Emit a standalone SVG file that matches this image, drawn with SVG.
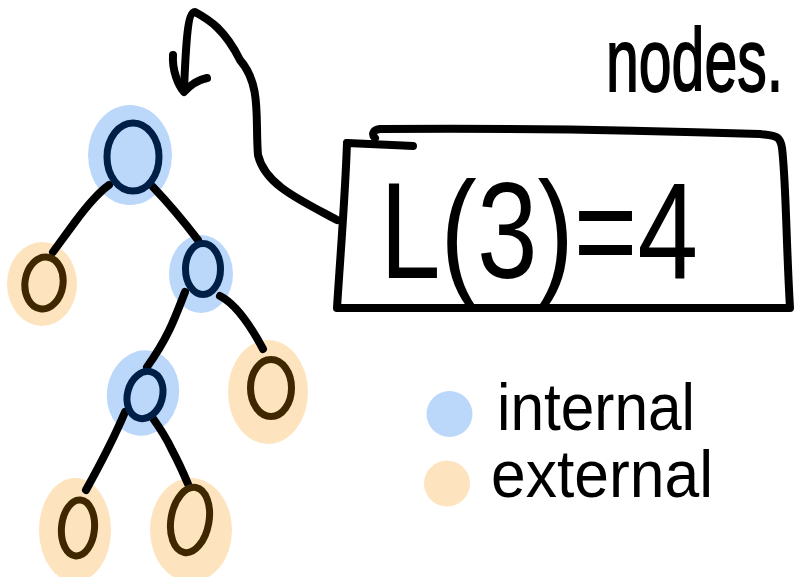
<svg xmlns="http://www.w3.org/2000/svg" width="795" height="577" viewBox="0 0 795 577">
<style>
.ink{fill:none;stroke:#000;stroke-width:8;stroke-linecap:round;stroke-linejoin:round}
.bin{fill:#bbd8fb;mix-blend-mode:multiply}
.bex{fill:#fde4be;mix-blend-mode:multiply}
.nin{fill:none;stroke:#001f47;stroke-width:7;stroke-linecap:round}
.nex{fill:none;stroke:#3f2800;stroke-width:7;stroke-linecap:round}
.t{font-family:"Liberation Sans",Arial,sans-serif;fill:#000}
</style>
<rect width="795" height="577" fill="#fff"/>
<g id="connectors">
<path class="ink" d="M109,185 Q95,195 75,222 L53,252"/>
<path class="ink" d="M153,187 Q175,210 198,240"/>
<path class="ink" d="M185,292 C175,318 168,338 147,367"/>
<path class="ink" d="M220,296 Q240,306 263,349"/>
<path class="ink" d="M125,412 Q112,443 86,490"/>
<path class="ink" d="M152,417 Q165,435 172,450 Q180,465 188,484"/>
<path class="ink" d="M337,220 C300,200 265,185 258,155 C255,120 262,85 240,60 C225,30 210,20 195,12 C188,12 186,40 184,90"/>
<path class="ink" d="M173,55 C172,70 178,85 184,92 C190,85 198,80 207,78"/>
</g>
<g id="box">
<path class="ink" d="M347,143 C345,200 340,260 337,308 L790,308 C786,240 786,180 782,148 C780,135 775,136 760,134 C640,130 500,128 380,129 C372,130 372,135 375,138"/>
<path class="ink" d="M347,143 C365,144 390,145 413,146"/>
<text class="t" x="380" y="278" font-size="137" textLength="318" lengthAdjust="spacingAndGlyphs">L(3)=4</text>
</g>
<g id="title">
<text class="t" transform="translate(606,91) scale(1,1.5)" x="0" y="0" font-size="59" stroke="#000" stroke-width="1.2">nodes.</text>
</g>
<g id="node-root">
<ellipse class="bin" cx="130" cy="155" rx="42" ry="50"/>
<ellipse class="nin" cx="133" cy="157" rx="26" ry="34"/>
</g>
<g id="node-leaf-a">
<ellipse class="bex" cx="42" cy="284" rx="35" ry="42"/>
<ellipse class="nex" cx="44" cy="283" rx="19" ry="26" transform="rotate(8 44 283)"/>
</g>
<g id="node-internal-b">
<ellipse class="bin" cx="201" cy="274" rx="32" ry="39"/>
<ellipse class="nin" cx="203" cy="269" rx="17.5" ry="25.5"/>
</g>
<g id="node-internal-c">
<ellipse class="bin" cx="143" cy="393" rx="36" ry="43" transform="rotate(10 143 393)"/>
<ellipse class="nin" cx="145" cy="395" rx="17.5" ry="24" transform="rotate(15 145 395)"/>
</g>
<g id="node-leaf-d">
<ellipse class="bex" cx="268" cy="392" rx="40" ry="52"/>
<ellipse class="nex" cx="271" cy="388" rx="20.5" ry="28.5"/>
</g>
<g id="node-leaf-e">
<ellipse class="bex" cx="75" cy="530" rx="36" ry="52"/>
<ellipse class="nex" cx="78" cy="528" rx="16.5" ry="28" transform="rotate(5 78 528)"/>
</g>
<g id="node-leaf-f">
<ellipse class="bex" cx="191" cy="530" rx="41" ry="52"/>
<ellipse class="nex" cx="190" cy="520" rx="19" ry="33" transform="rotate(10 190 520)"/>
</g>
<g id="legend-internal">
<circle cx="449.5" cy="414" r="23" fill="#bbd8fb"/>
<text class="t" x="497" y="430" font-size="66" textLength="198" lengthAdjust="spacingAndGlyphs">internal</text>
</g>
<g id="legend-external">
<circle cx="447" cy="483.5" r="23" fill="#fde4be"/>
<text class="t" x="491" y="497" font-size="66" textLength="222" lengthAdjust="spacingAndGlyphs">external</text>
</g>
</svg>
